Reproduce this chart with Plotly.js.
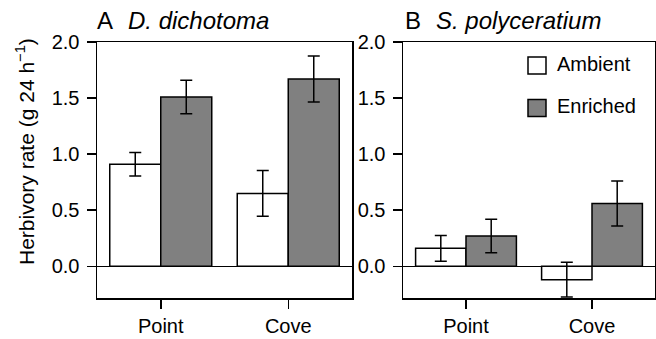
<!DOCTYPE html>
<html>
<head>
<meta charset="utf-8">
<script src="https://cdn.plot.ly/plotly-3.0.1.min.js"></script>
<style>html,body{margin:0;padding:0;background:#fff;}#chart{width:656px;height:339px;}</style>
</head>
<body>
<div id="chart"></div>
<script>
// ---- data ----
const sites = ['Point', 'Cove'];
const treatments = ['Ambient', 'Enriched'];
const panelTitles = [['A', 'D. dichotoma'], ['B', 'S. polyceratium']];
const yTitle = 'Herbivory rate (g 24 h<sup>\u22121</sup>)';
const dichAmbient = [0.91, 0.65];
const dichAmbientErr = [0.105, 0.205];
const dichEnriched = [1.51, 1.67];
const dichEnrichedErr = [0.15, 0.205];
const polyAmbient = [0.16, -0.12];
const polyAmbientErr = [0.115, 0.155];
const polyEnriched = [0.27, 0.56];
const polyEnrichedErr = [0.15, 0.20];
const yTickVals = [0, 0.5, 1.0, 1.5, 2.0];
const yTickText = ['0.0', '0.5', '1.0', '1.5', '2.0'];

// ---- style ----
const FONT = 'Liberation Sans, Arial, Helvetica, sans-serif';
const W = 656, H = 339;
const colors = {Ambient: '#ffffff', Enriched: '#808080'};
const px = v => v / W;
const py = v => (H - v) / H;

function barTrace(name, y, err, xa, ya) {
  return {
    type: 'bar', name: name, x: sites, y: y, xaxis: xa, yaxis: ya,
    showlegend: false,
    marker: {color: colors[name], line: {color: '#000', width: 1.5}},
    error_y: {type: 'data', array: err, visible: true, color: '#000', thickness: 1.5, width: 6}
  };
}

const data = [
  barTrace('Ambient', dichAmbient, dichAmbientErr, 'x', 'y'),
  barTrace('Enriched', dichEnriched, dichEnrichedErr, 'x', 'y'),
  barTrace('Ambient', polyAmbient, polyAmbientErr, 'x2', 'y2'),
  barTrace('Enriched', polyEnriched, polyEnrichedErr, 'x2', 'y2')
];

const yDom = [py(298), py(42)];
function xAxis(dom, anchor) {
  return {
    domain: dom, anchor: anchor, type: 'category', range: [-0.5, 1.5],
    showline: true, mirror: true, linecolor: '#000', linewidth: 1.5,
    ticks: 'outside', ticklen: 9, tickwidth: 1.5, tickcolor: '#000',
    tickfont: {family: FONT, size: 20, color: '#000'},
    showgrid: false, zeroline: false, automargin: false, fixedrange: true
  };
}
function yAxis(anchor) {
  return {
    domain: yDom, anchor: anchor, range: [-0.283, 2.0],
    tickvals: yTickVals, ticktext: yTickText,
    showline: true, mirror: true, linecolor: '#000', linewidth: 1.5,
    ticks: 'outside', ticklen: 9, tickwidth: 1.5, tickcolor: '#000',
    ticklabelstandoff: 3,
    tickfont: {family: FONT, size: 20, color: '#000'},
    showgrid: false, zeroline: true, zerolinecolor: '#000', zerolinewidth: 1.5,
    automargin: false, fixedrange: true
  };
}

const annotations = [];
// y-axis title
annotations.push({xref: 'paper', yref: 'paper', x: px(25), y: py(152), xanchor: 'center', yanchor: 'middle',
  textangle: -90, text: yTitle, showarrow: false, font: {family: FONT, size: 21, color: '#000'}});

const titlePos = [[95, 126], [403, 434]];
panelTitles.forEach((t, i) => {
  annotations.push({xref: 'paper', yref: 'paper', x: px(titlePos[i][0]), y: py(21), xanchor: 'left', yanchor: 'middle',
    text: t[0], showarrow: false, font: {family: FONT, size: 24, color: '#000'}});
  annotations.push({xref: 'paper', yref: 'paper', x: px(titlePos[i][1]), y: py(21), xanchor: 'left', yanchor: 'middle',
    text: '<i>' + t[1] + '</i>', showarrow: false, font: {family: FONT, size: 24, color: '#000'}});
});

// legend (drawn as shapes + text)
const shapes = [];
const legRows = [65.5, 108];
treatments.forEach((name, i) => {
  const cy = legRows[i];
  shapes.push({type: 'rect', xref: 'paper', yref: 'paper', x0: px(528), x1: px(546), y0: py(cy - 8.5), y1: py(cy + 8.5),
    fillcolor: colors[name], line: {color: '#000', width: 1.5}});
  annotations.push({xref: 'paper', yref: 'paper', x: px(555), y: py(cy - 2), xanchor: 'left', yanchor: 'middle',
    text: name, showarrow: false, font: {family: FONT, size: 20, color: '#000'}});
});

const layout = {
  width: W, height: H,
  margin: {l: 0, r: 0, t: 0, b: 0},
  paper_bgcolor: '#fff', plot_bgcolor: '#fff',
  barmode: 'group', bargap: 0.2, bargroupgap: 0,
  showlegend: false,
  font: {family: FONT, color: '#000'},
  xaxis: xAxis([px(97), px(352)], 'y'),
  yaxis: yAxis('x'),
  xaxis2: xAxis([px(403), px(655)], 'y2'),
  yaxis2: yAxis('x2'),
  annotations: annotations,
  shapes: shapes
};

Plotly.newPlot('chart', data, layout, {staticPlot: true, displayModeBar: false});
</script>
</body>
</html>
